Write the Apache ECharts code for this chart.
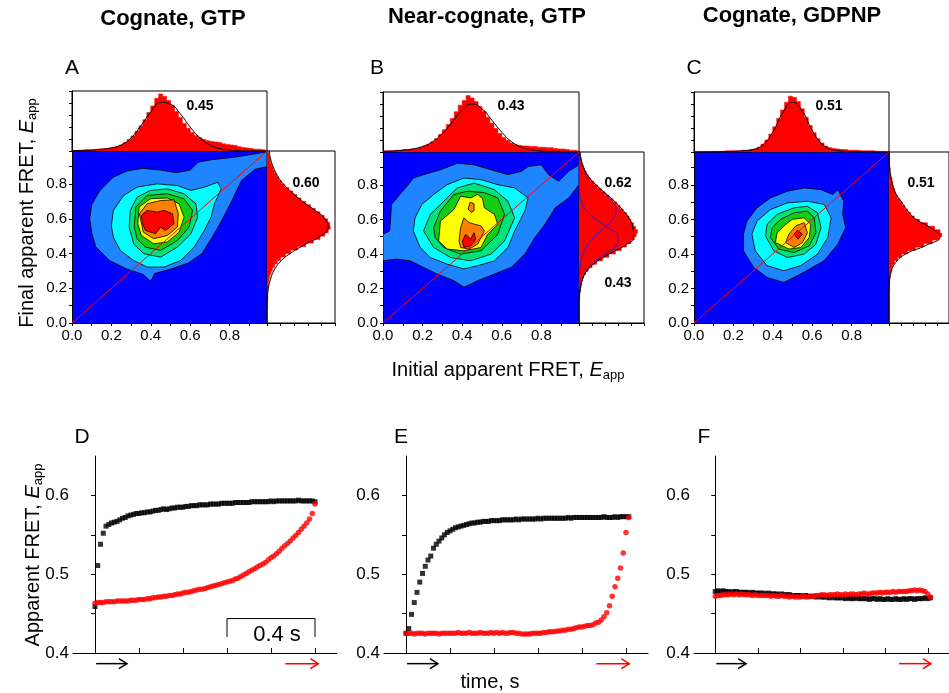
<!DOCTYPE html>
<html><head><meta charset="utf-8">
<script src="https://cdn.jsdelivr.net/npm/echarts@6/dist/echarts.min.js"></script>
<style>html,body{margin:0;padding:0;background:#fff}#c{width:949px;height:693px}</style>
</head><body><div id="c"></div>
<script>
// ---------------- DATA ----------------
const panelTitles = ['Cognate, GTP', 'Near-cognate, GTP', 'Cognate, GDPNP'];
const topLetters = ['A', 'B', 'C'];
const bottomLetters = ['D', 'E', 'F'];
const mainTicks = [0, 0.1, 0.2, 0.3, 0.4, 0.5, 0.6, 0.7, 0.8, 0.9];
const mainTickLabels = [0, 0.2, 0.4, 0.6, 0.8];
const timeTicks = [0, 0.2, 0.4, 0.6, 0.8, 1.0];
const fretTicks = [0.4, 0.45, 0.5, 0.55, 0.6];
const fretTickLabels = [0.4, 0.5, 0.6];
const diagonal = [[0, 0], [1, 1]];

// contour polygons: [levelIndex, [[initialE, finalE], ...]]
const contourA = [
  [0, [[0.09,0.60],[0.10,0.68],[0.14,0.76],[0.21,0.84],[0.28,0.875],[0.36,0.89],[0.45,0.88],[0.53,0.865],[0.60,0.88],[0.64,0.925],[0.71,0.94],[0.83,0.955],[0.91,0.97],[0.99,0.985],[0.99,0.90],[0.93,0.885],[0.86,0.82],[0.81,0.70],[0.76,0.59],[0.72,0.51],[0.66,0.40],[0.59,0.345],[0.50,0.31],[0.42,0.285],[0.40,0.24],[0.36,0.28],[0.28,0.31],[0.19,0.36],[0.12,0.44],[0.10,0.52]]],
  [1, [[0.20,0.56],[0.21,0.648],[0.262,0.734],[0.33,0.782],[0.433,0.801],[0.535,0.791],[0.604,0.763],[0.672,0.782],[0.74,0.81],[0.757,0.772],[0.723,0.686],[0.706,0.609],[0.672,0.533],[0.62,0.437],[0.552,0.36],[0.467,0.322],[0.381,0.322],[0.313,0.36],[0.245,0.418],[0.21,0.494]]],
  [2, [[0.29,0.552],[0.296,0.648],[0.33,0.724],[0.398,0.763],[0.484,0.772],[0.569,0.744],[0.629,0.686],[0.638,0.609],[0.604,0.514],[0.535,0.437],[0.45,0.379],[0.364,0.399],[0.313,0.456]]],
  [3, [[0.316,0.552],[0.324,0.667],[0.381,0.734],[0.484,0.744],[0.569,0.715],[0.612,0.648],[0.595,0.552],[0.535,0.475],[0.45,0.418],[0.373,0.437],[0.33,0.485]]],
  [4, [[0.334,0.571],[0.341,0.667],[0.398,0.715],[0.484,0.72],[0.544,0.686],[0.569,0.609],[0.544,0.523],[0.484,0.466],[0.415,0.456],[0.352,0.504]]],
  [5, [[0.342,0.629],[0.381,0.686],[0.45,0.705],[0.518,0.709],[0.54,0.629],[0.535,0.552],[0.484,0.504],[0.415,0.485],[0.362,0.523]]],
  [6, [[0.352,0.619],[0.381,0.648],[0.433,0.638],[0.467,0.648],[0.51,0.629],[0.518,0.571],[0.475,0.533],[0.45,0.552],[0.424,0.514],[0.373,0.533],[0.358,0.571]]]
];
const contourB = [
  [0, [[0,0.514],[0.034,0.533],[0.043,0.686],[0.085,0.744],[0.128,0.801],[0.153,0.839],[0.205,0.859],[0.29,0.887],[0.375,0.925],[0.46,0.916],[0.546,0.887],[0.631,0.859],[0.70,0.878],[0.733,0.906],[0.80,0.916],[0.836,0.859],[0.887,0.82],[0.938,0.878],[0.99,0.916],[0.99,0.801],[0.938,0.724],[0.87,0.667],[0.818,0.571],[0.767,0.494],[0.716,0.399],[0.648,0.322],[0.563,0.284],[0.478,0.245],[0.409,0.207],[0.358,0.245],[0.273,0.284],[0.205,0.322],[0.137,0.36],[0.069,0.37],[0,0.36]]],
  [1, [[0.153,0.533],[0.162,0.609],[0.196,0.686],[0.256,0.744],[0.324,0.801],[0.409,0.839],[0.495,0.83],[0.58,0.801],[0.665,0.782],[0.733,0.724],[0.716,0.648],[0.665,0.533],[0.631,0.437],[0.563,0.36],[0.478,0.332],[0.409,0.313],[0.324,0.341],[0.239,0.379],[0.188,0.437]]],
  [2, [[0.205,0.533],[0.239,0.629],[0.307,0.705],[0.375,0.782],[0.46,0.81],[0.563,0.772],[0.631,0.705],[0.665,0.609],[0.614,0.475],[0.546,0.399],[0.443,0.36],[0.341,0.379],[0.256,0.437]]],
  [3, [[0.256,0.552],[0.29,0.648],[0.358,0.744],[0.426,0.763],[0.512,0.755],[0.58,0.724],[0.614,0.629],[0.58,0.514],[0.495,0.418],[0.392,0.399],[0.307,0.437],[0.264,0.494]]],
  [4, [[0.281,0.475],[0.29,0.59],[0.358,0.657],[0.392,0.734],[0.443,0.724],[0.478,0.745],[0.503,0.72],[0.512,0.667],[0.563,0.629],[0.58,0.571],[0.529,0.514],[0.495,0.437],[0.409,0.418],[0.324,0.428]]],
  [5, [[0.384,0.475],[0.392,0.552],[0.409,0.609],[0.435,0.581],[0.495,0.562],[0.512,0.533],[0.478,0.456],[0.435,0.428],[0.392,0.437]]],
  [5, [[0.43,0.66],[0.44,0.70],[0.46,0.69],[0.46,0.65],[0.445,0.64]]],
  [6, [[0.401,0.475],[0.418,0.514],[0.443,0.485],[0.46,0.523],[0.469,0.485],[0.443,0.447],[0.409,0.437]]]
];
const contourC = [
  [0, [[0.251,0.418],[0.251,0.514],[0.269,0.59],[0.32,0.667],[0.388,0.724],[0.474,0.763],[0.559,0.782],[0.645,0.772],[0.705,0.744],[0.73,0.772],[0.76,0.705],[0.755,0.629],[0.77,0.552],[0.73,0.456],[0.66,0.36],[0.542,0.284],[0.456,0.235],[0.371,0.264],[0.303,0.322]]],
  [1, [[0.294,0.514],[0.32,0.59],[0.388,0.657],[0.474,0.695],[0.576,0.705],[0.662,0.686],[0.696,0.609],[0.679,0.494],[0.627,0.399],[0.542,0.332],[0.456,0.303],[0.371,0.332],[0.311,0.418]]],
  [2, [[0.363,0.504],[0.371,0.571],[0.422,0.629],[0.508,0.667],[0.576,0.676],[0.627,0.638],[0.645,0.552],[0.619,0.456],[0.559,0.399],[0.474,0.379],[0.405,0.418]]],
  [3, [[0.388,0.494],[0.397,0.552],[0.439,0.6],[0.508,0.638],[0.576,0.648],[0.61,0.609],[0.619,0.523],[0.585,0.447],[0.508,0.408],[0.431,0.428]]],
  [4, [[0.413,0.466],[0.422,0.523],[0.465,0.571],[0.499,0.6],[0.559,0.609],[0.593,0.571],[0.585,0.494],[0.542,0.437],[0.482,0.428]]],
  [5, [[0.465,0.466],[0.482,0.514],[0.516,0.562],[0.559,0.581],[0.576,0.523],[0.551,0.466],[0.508,0.437]]],
  [6, [[0.508,0.514],[0.525,0.537],[0.551,0.514],[0.528,0.485]]]
];

// histogram bins (bin centres, FRET)
const binCenters = [0.01,0.03,0.05,0.07,0.09,0.11,0.13,0.15,0.17,0.19,0.21,0.23,0.25,0.27,0.29,0.31,0.33,0.35,0.37,0.39,0.41,0.43,0.45,0.47,0.49,0.51,0.53,0.55,0.57,0.59,0.61,0.63,0.65,0.67,0.69,0.71,0.73,0.75,0.77,0.79,0.81,0.83,0.85,0.87,0.89,0.91,0.93,0.95,0.97];
const histA_top = [1,1,1,2,2,2,3,3,4,5,6,8,10,14,19,25,33,42,52,64,75,88,95,91,84,76,66,56,46,38,31,26,22,19,17,16,15,14,12,11,10,9,7,6,5,4,3,3,2];
const histA_right = [0,0,0,0,1,1,1,1,1,1,2,2,3,4,6,8,11,15,20,27,35,45,57,68,78,85,90,93,92,89,84,78,71,64,57,50,44,38,32,26,21,17,14,11,9,7,5,4,3];
const histB_top = [2,2,2,3,3,4,4,5,6,8,10,13,17,22,29,37,46,56,67,78,86,94,90,84,76,68,58,48,39,31,24,19,15,12,11,10,10,9,9,8,8,7,7,6,5,5,4,3,3];
const histB_right = [0,0,0,0,0,0,0,1,1,2,3,4,5,7,10,14,20,27,36,46,56,65,73,80,85,88,90,87,84,80,77,73,68,63,58,52,46,40,34,28,23,18,14,11,8,6,4,3,2];
const histC_top = [1,1,1,1,1,1,1,1,2,2,2,2,3,3,4,5,8,13,20,30,42,56,70,83,93,91,84,72,58,44,32,22,15,10,7,6,5,4,4,3,3,3,2,2,2,2,1,1,1];
const histC_right = [0,0,0,0,0,0,0,0,0,1,1,1,1,2,3,4,6,9,14,21,31,44,58,72,83,88,85,76,64,51,42,36,31,26,22,18,14,11,9,7,6,5,3,2,2,1,1,1,1];

// Gaussian fit curves sampled at fitGrid
const fitGrid = [0,0.05,0.1,0.15,0.2,0.25,0.3,0.35,0.4,0.45,0.5,0.55,0.6,0.65,0.7,0.75,0.8,0.85,0.9,0.95,1.0];
const fitA_top = [0.5,1,1.5,3,5,10,22,42,65,81,78,62,40,22,10,4,1.5,0.5,0.2,0.1,0];
const fitA_right = [0,0,0,0.5,2,5,10,19,34,55,78,90,85,70,52,37,24,15,9,5,3];
const fitB_top = [1,1.5,3,5,9,17,31,50,70,80,72,53,33,17,8,3.5,1.5,0.8,0.4,0.2,0];
const fitB_right = [0,0,0,0.5,2,5.2,11.8,25.5,46,71,84,83,78,68,56,41,26.2,14,7,3,1];
const fitB_rightLow = [0,0,0,0.5,2,5,11,23,40,58,60,45,26,11,4,1,0.2,0,0,0,0];
const fitB_rightHigh = [0,0,0,0,0,0.2,0.8,2.5,6,13,24,38,52,57,52,40,26,14,7,3,1];
const fitC_top = [0,0,0.2,0.5,1,2,4,12,33,65,83,68,36,13,4,1.5,0.7,0.3,0.1,0,0];
const fitC_right = [0,0,0,0,0.2,1,4,11,28,62,85,70,45,31,21,11,6,3,1,0.5,0];

const peakLabels = [
  {top: '0.45', right: ['0.60']},
  {top: '0.43', right: ['0.62', '0.43']},
  {top: '0.51', right: ['0.51']}
];

// time traces (frame interval in s)
const frameTime = 0.0125;
const traceD_black = [0.459,0.511,0.538,0.552,0.561,0.563,0.565,0.566,0.567,0.569,0.571,0.572,0.574,0.575,0.576,0.577,0.577,0.578,0.578,0.579,0.579,0.580,0.581,0.581,0.582,0.583,0.582,0.583,0.584,0.584,0.585,0.585,0.585,0.586,0.586,0.587,0.587,0.587,0.588,0.588,0.588,0.588,0.589,0.589,0.589,0.589,0.590,0.590,0.590,0.590,0.590,0.591,0.591,0.591,0.591,0.591,0.591,0.592,0.592,0.592,0.592,0.592,0.592,0.592,0.593,0.592,0.593,0.593,0.593,0.593,0.593,0.593,0.593,0.593,0.594,0.593,0.593,0.593,0.593,0.593,0.592];
const traceD_red = [0.463,0.464,0.464,0.464,0.465,0.465,0.465,0.465,0.466,0.466,0.466,0.466,0.466,0.467,0.467,0.467,0.468,0.468,0.468,0.469,0.469,0.470,0.470,0.471,0.471,0.472,0.472,0.473,0.473,0.474,0.475,0.475,0.476,0.477,0.477,0.478,0.479,0.480,0.481,0.481,0.482,0.483,0.484,0.485,0.486,0.487,0.488,0.489,0.490,0.491,0.492,0.494,0.495,0.497,0.499,0.501,0.503,0.505,0.507,0.509,0.511,0.513,0.515,0.518,0.521,0.523,0.526,0.529,0.533,0.536,0.539,0.542,0.546,0.549,0.553,0.557,0.561,0.565,0.570,0.577,0.589];
const traceE_black = [0.425,0.431,0.449,0.464,0.477,0.490,0.501,0.510,0.518,0.523,0.533,0.538,0.542,0.546,0.550,0.553,0.555,0.557,0.559,0.560,0.561,0.562,0.563,0.564,0.565,0.565,0.566,0.566,0.567,0.567,0.567,0.568,0.568,0.568,0.568,0.569,0.569,0.569,0.569,0.569,0.570,0.569,0.570,0.570,0.570,0.570,0.570,0.570,0.571,0.570,0.571,0.571,0.571,0.571,0.571,0.571,0.571,0.571,0.571,0.572,0.571,0.572,0.572,0.572,0.572,0.572,0.572,0.572,0.572,0.572,0.572,0.572,0.573,0.572,0.572,0.572,0.573,0.572,0.573,0.573,0.573,0.573];
const traceE_red = [0.425,0.425,0.425,0.424,0.425,0.425,0.425,0.424,0.425,0.425,0.425,0.425,0.424,0.425,0.425,0.425,0.425,0.425,0.425,0.426,0.425,0.425,0.425,0.426,0.425,0.425,0.425,0.426,0.425,0.425,0.425,0.426,0.425,0.426,0.425,0.426,0.425,0.425,0.426,0.426,0.425,0.425,0.424,0.424,0.424,0.424,0.425,0.425,0.425,0.425,0.426,0.426,0.427,0.427,0.427,0.428,0.428,0.429,0.429,0.430,0.430,0.431,0.432,0.433,0.433,0.434,0.435,0.435,0.436,0.438,0.439,0.442,0.446,0.451,0.460,0.472,0.484,0.495,0.508,0.527,0.553,0.572];
const traceF_black = [0.478,0.479,0.478,0.479,0.478,0.478,0.477,0.478,0.478,0.477,0.477,0.477,0.477,0.476,0.477,0.476,0.476,0.476,0.476,0.475,0.476,0.475,0.475,0.475,0.474,0.475,0.474,0.474,0.474,0.473,0.473,0.473,0.473,0.472,0.473,0.472,0.472,0.472,0.471,0.472,0.471,0.471,0.471,0.470,0.471,0.470,0.470,0.470,0.470,0.469,0.470,0.469,0.469,0.470,0.469,0.469,0.469,0.469,0.468,0.469,0.469,0.468,0.469,0.468,0.468,0.469,0.468,0.468,0.469,0.468,0.468,0.469,0.468,0.469,0.469,0.468,0.469,0.469,0.469,0.470,0.469,0.470];
const traceF_red = [0.472,0.473,0.473,0.474,0.474,0.474,0.475,0.474,0.475,0.474,0.475,0.474,0.474,0.474,0.473,0.474,0.473,0.473,0.473,0.473,0.473,0.472,0.473,0.472,0.472,0.473,0.472,0.472,0.471,0.472,0.471,0.471,0.471,0.472,0.471,0.471,0.472,0.472,0.473,0.473,0.474,0.474,0.473,0.474,0.474,0.474,0.475,0.474,0.474,0.475,0.474,0.475,0.475,0.474,0.475,0.475,0.476,0.475,0.475,0.476,0.476,0.476,0.477,0.476,0.477,0.477,0.477,0.478,0.477,0.478,0.478,0.478,0.478,0.479,0.479,0.480,0.479,0.480,0.479,0.478,0.475,0.471];

// arrows under time axes: [tStart, tEnd] and FRET level
const arrowBlackT = [0.005, 0.145];
const arrowRedT = [0.865, 1.015];
const arrowLevel = 0.3865;
// scale bar in D
const scaleBarT = [0.6, 1.0];
const scaleBarE = [0.4203, 0.4437];
const scaleBarText = '0.4 s';

// ---------------- STYLE / LAYOUT ----------------
const FONT = 'Liberation Sans, Arial, Helvetica, sans-serif';
const levelColors = ['#1E84FF', '#00FFFF', '#00E27C', '#14CC14', '#FFFF00', '#FF8000', '#FF0000'];
const topLayout = [
  {main: [72, 151, 195, 172], top: [72, 91, 195, 60], right: [267, 151, 68, 172]},
  {main: [383, 152, 196, 171], top: [383, 92, 196, 60], right: [579, 152, 65, 171]},
  {main: [694, 152, 195, 171], top: [694, 92, 195, 60], right: [889, 152, 66, 171]}
];
const bottomLayout = [[73, 456, 264, 197], [384, 456, 264, 197], [694, 456, 264, 197]];
const MAINMAX = 0.99;

const grid = [], xAxis = [], yAxis = [], series = [];
function addGrid(r, extra) {
  grid.push(Object.assign({left: r[0], top: r[1], width: r[2], height: r[3], containLabel: false}, extra || {}));
  return grid.length - 1;
}
const line1 = {show: true, lineStyle: {color: '#000', width: 1}};
function hidden(gi, min, max) {
  return {gridIndex: gi, type: 'value', min: min, max: max, show: false};
}

const contours = [contourA, contourB, contourC];
const histsTop = [histA_top, histB_top, histC_top];
const histsRight = [histA_right, histB_right, histC_right];
const fitsTop = [fitA_top, fitB_top, fitC_top];
const fitsRight = [[fitA_right], [fitB_right, fitB_rightLow, fitB_rightHigh], [fitC_right]];
const fitRightColors = ['#000', '#2222DD', '#2222DD'];
const binHalf = (binCenters[1] - binCenters[0]) / 2;

// histogram drawn as one stepped red polygon through the axes
function histSeries(ax, counts, orient) {
  const pt = (e, v) => orient === 'top' ? [e, v] : [v, e];
  return {
    type: 'custom', xAxisIndex: ax, yAxisIndex: ax, z: 2, silent: true, clip: true,
    data: [pt(binCenters[0], counts[0])],
    renderItem: function (params, api) {
      const pts = [api.coord(pt(binCenters[0] - binHalf, 0))];
      counts.forEach((v, i) => {
        pts.push(api.coord(pt(binCenters[i] - binHalf, v)));
        pts.push(api.coord(pt(binCenters[i] + binHalf, v)));
      });
      pts.push(api.coord(pt(binCenters[binCenters.length - 1] + binHalf, 0)));
      return {type: 'polygon', shape: {points: pts}, style: {fill: '#FF0000', stroke: '#FF0000', lineWidth: 0.6}};
    }
  };
}

topLayout.forEach((L, p) => {
  const gm = addGrid(L.main, {show: true, backgroundColor: '#0000FF', borderWidth: 0});
  xAxis.push({gridIndex: gm, type: 'value', min: 0, max: MAINMAX, axisLine: line1,
    axisTick: {show: true, inside: false, length: 3, customValues: mainTicks, lineStyle: {color: '#000'}},
    axisLabel: {show: true, customValues: mainTickLabels, formatter: v => v.toFixed(1), fontSize: 15, fontFamily: FONT, color: '#000', margin: 5},
    splitLine: {show: false}});
  yAxis.push({gridIndex: gm, type: 'value', min: 0, max: MAINMAX, axisLine: line1,
    axisTick: {show: true, inside: false, length: 3, customValues: mainTicks, lineStyle: {color: '#000'}},
    axisLabel: {show: true, customValues: mainTickLabels, formatter: v => v.toFixed(1), fontSize: 15, fontFamily: FONT, color: '#000', margin: 5},
    splitLine: {show: false}});
  const axM = xAxis.length - 1;
  const polys = contours[p];
  series.push({
    type: 'custom', xAxisIndex: axM, yAxisIndex: axM, z: 2, silent: true, clip: true,
    data: polys.map(() => [0.5, 0.5]),
    renderItem: function (params, api) {
      const poly = polys[params.dataIndex];
      return {type: 'polygon', shape: {points: poly[1].map(pt => api.coord(pt))},
        style: {fill: levelColors[poly[0]], stroke: '#000', lineWidth: 0.8}};
    }
  });
  series.push({type: 'line', xAxisIndex: axM, yAxisIndex: axM, data: diagonal, symbol: 'none', silent: true,
    lineStyle: {color: '#FF0000', width: 1}, z: 5, clip: true});

  const gt = addGrid(L.top, {show: true, borderColor: '#000', borderWidth: 1, backgroundColor: 'transparent'});
  xAxis.push(hidden(gt, 0, MAINMAX));
  yAxis.push({gridIndex: gt, type: 'value', min: 0, max: 100, interval: 20, axisLine: line1,
    axisTick: {show: true, inside: false, length: 3, lineStyle: {color: '#000'}}, axisLabel: {show: false}, splitLine: {show: false}});
  const axT = xAxis.length - 1;
  series.push(histSeries(axT, histsTop[p], 'top'));
  series.push({type: 'line', xAxisIndex: axT, yAxisIndex: axT, smooth: true, symbol: 'none', silent: true, z: 4,
    data: fitGrid.map((x, i) => [x, fitsTop[p][i]]), lineStyle: {color: '#000', width: 1}});

  const gr = addGrid(L.right, {show: true, borderColor: '#000', borderWidth: 1, backgroundColor: 'transparent'});
  xAxis.push({gridIndex: gr, type: 'value', min: 0, max: 100, interval: 20, axisLine: line1,
    axisTick: {show: true, inside: false, length: 3, lineStyle: {color: '#000'}}, axisLabel: {show: false}, splitLine: {show: false}});
  yAxis.push(hidden(gr, 0, MAINMAX));
  const axR = xAxis.length - 1;
  series.push(histSeries(axR, histsRight[p], 'right'));
  fitsRight[p].forEach((f, k) => {
    series.push({type: 'line', xAxisIndex: axR, yAxisIndex: axR, smooth: true, symbol: 'none', silent: true, z: 4 + (k === 0 ? 1 : 0),
      data: fitGrid.map((y, i) => [f[i], y]), lineStyle: {color: fitRightColors[k], width: 1}});
  });
});

const traces = [[traceD_black, traceD_red], [traceE_black, traceE_red], [traceF_black, traceF_red]];
bottomLayout.forEach((r, p) => {
  const g = addGrid(r);
  xAxis.push({gridIndex: g, type: 'value', min: -0.1, max: 1.1, axisLine: line1,
    axisTick: {show: true, inside: true, length: 5, customValues: timeTicks, lineStyle: {color: '#000'}},
    axisLabel: {show: false}, splitLine: {show: false}});
  yAxis.push({gridIndex: g, type: 'value', min: 0.4, max: 0.65, axisLine: line1,
    axisTick: {show: true, inside: false, length: 4, customValues: fretTicks, lineStyle: {color: '#000'}},
    axisLabel: {show: true, customValues: fretTickLabels, formatter: v => v.toFixed(1), fontSize: 17, fontFamily: FONT, color: '#000', margin: 4},
    splitLine: {show: false}});
  const ax = xAxis.length - 1;
  series.push({type: 'scatter', xAxisIndex: ax, yAxisIndex: ax, symbol: 'rect', symbolSize: 5, silent: true,
    itemStyle: {color: '#000'}, data: traces[p][0].map((v, i) => [i * frameTime, v]), z: 3});
  series.push({type: 'scatter', xAxisIndex: ax, yAxisIndex: ax, symbol: 'circle', symbolSize: 5.5, silent: true,
    itemStyle: {color: '#FF0000'}, data: traces[p][1].map((v, i) => [i * frameTime, v]), z: 4});
  const arrows = [[arrowBlackT, '#000'], [arrowRedT, '#FF0000']];
  series.push({type: 'custom', xAxisIndex: ax, yAxisIndex: ax, clip: false, silent: true, z: 5,
    data: arrows.map(a => [a[0][0], arrowLevel]),
    renderItem: function (params, api) {
      const a = arrows[params.dataIndex];
      const p0 = api.coord([a[0][0], arrowLevel]), p1 = api.coord([a[0][1], arrowLevel]);
      return {type: 'group', children: [
        {type: 'line', shape: {x1: p0[0], y1: p0[1], x2: p1[0], y2: p1[1]}, style: {stroke: a[1], lineWidth: 1.5}},
        {type: 'polyline', shape: {points: [[p1[0] - 8, p1[1] - 5], [p1[0], p1[1]], [p1[0] - 8, p1[1] + 5]]}, style: {stroke: a[1], lineWidth: 1.5, fill: null}}
      ]};
    }});
  if (p === 0) {
    series.push({type: 'line', xAxisIndex: ax, yAxisIndex: ax, symbol: 'none', silent: true, z: 5,
      data: [[scaleBarT[0], scaleBarE[0]], [scaleBarT[0], scaleBarE[1]], [scaleBarT[1], scaleBarE[1]], [scaleBarT[1], scaleBarE[0]]],
      lineStyle: {color: '#000', width: 1}});
  }
});

// ---------------- TEXT ----------------
function text(x, y, str, size, opts) {
  opts = opts || {};
  return {type: 'text', x: x, y: y, rotation: opts.rotation || 0, silent: true, z: 100,
    style: Object.assign({text: str, fontSize: size, fontFamily: FONT, fontWeight: opts.bold ? 'bold' : 'normal',
      fill: '#000', align: 'center', verticalAlign: 'middle', textAlign: 'center', textVerticalAlign: 'middle'}, opts.style || {})};
}
function subLabel(x, y, main, rot) {
  return text(x, y, '{n|' + main + '}{i|E}{s|app}', 20, {rotation: rot, style: {rich: {
    n: {fontSize: 20, fontFamily: FONT, lineHeight: 24},
    i: {fontSize: 20, fontFamily: FONT, fontStyle: 'italic', lineHeight: 24},
    s: {fontSize: 13, fontFamily: FONT, lineHeight: 14, verticalAlign: 'bottom'}
  }}});
}
const graphic = [
  text(173, 19, panelTitles[0], 22, {bold: true}),
  text(487, 17, panelTitles[1], 22, {bold: true}),
  text(792, 16, panelTitles[2], 22, {bold: true}),
  text(72, 68, topLetters[0], 21), text(377, 68, topLetters[1], 21), text(694, 68, topLetters[2], 21),
  text(82, 437, bottomLetters[0], 21), text(401, 437, bottomLetters[1], 21), text(704, 437, bottomLetters[2], 21),
  text(200, 106, peakLabels[0].top, 14, {bold: true}),
  text(306, 183, peakLabels[0].right[0], 14, {bold: true}),
  text(511, 106, peakLabels[1].top, 14, {bold: true}),
  text(618, 183, peakLabels[1].right[0], 14, {bold: true}),
  text(618, 283, peakLabels[1].right[1], 14, {bold: true}),
  text(829, 106, peakLabels[2].top, 14, {bold: true}),
  text(921, 183, peakLabels[2].right[0], 14, {bold: true}),
  subLabel(27, 213, 'Final apparent FRET, ', Math.PI / 2),
  subLabel(508, 370, 'Initial apparent FRET, ', 0),
  subLabel(33, 555, 'Apparent FRET, ', Math.PI / 2),
  text(490, 682, 'time, s', 20),
  text(277, 635, scaleBarText, 22)
];

const chart = echarts.init(document.getElementById('c'), null, {renderer: 'canvas'});
chart.setOption({animation: false, backgroundColor: '#fff', grid, xAxis, yAxis, series, graphic});
</script></body></html>
